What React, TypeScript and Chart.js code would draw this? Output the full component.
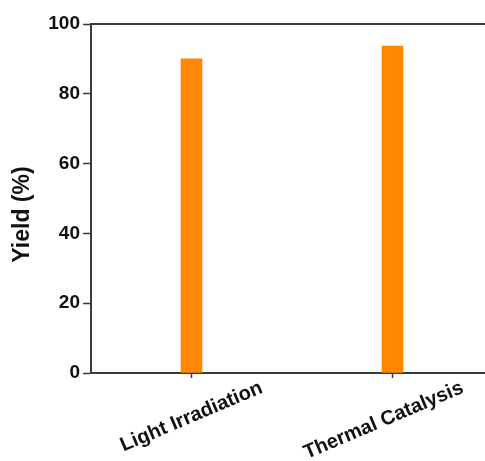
import React, { useEffect, useRef } from "react";
import { Chart, registerables } from "chart.js";

Chart.register(...registerables);

const categories: string[] = ["Light Irradiation", "Thermal Catalysis"];
const yieldValues: number[] = [90, 93.7];
const yTicks: number[] = [0, 20, 40, 60, 80, 100];
const yTitle = "Yield (%)";

const AXIS = "#3a3a3a";
const BAR = "#FF8800";
const FONT = "'Liberation Sans', Arial, sans-serif";

const frame = {
  id: "frame",
  afterDraw(chart: any) {
    const { ctx, chartArea } = chart;
    ctx.save();
    ctx.strokeStyle = AXIS;
    ctx.lineWidth = 2;
    ctx.beginPath();
    ctx.moveTo(chartArea.left - 1, chartArea.top);
    ctx.lineTo(chartArea.right + 20, chartArea.top);
    ctx.stroke();
    const cy = (chartArea.top + chartArea.bottom) / 2 + 16;
    ctx.translate(23, cy);
    ctx.rotate(-Math.PI / 2);
    ctx.fillStyle = "#111";
    ctx.font = `bold 23px ${FONT}`;
    ctx.textAlign = "center";
    ctx.textBaseline = "middle";
    ctx.fillText(yTitle, 0, 0);
    ctx.restore();
  },
};

export default function App() {
  const ref = useRef<HTMLCanvasElement | null>(null);
  useEffect(() => {
    if (!ref.current) return;
    const chart = new Chart(ref.current, {
      type: "bar",
      data: {
        labels: categories,
        datasets: [
          {
            label: yTitle,
            data: yieldValues,
            backgroundColor: BAR,
            borderWidth: 0,
            barThickness: 21,
          },
        ],
      },
      options: {
        responsive: false,
        animation: false,
        layout: { padding: { top: 24, right: 7, left: 0, bottom: 0 } },
        plugins: { legend: { display: false }, tooltip: { enabled: false } },
        scales: {
          x: {
            border: { display: true, color: AXIS, width: 2 },
            grid: {
              display: true,
              offset: false,
              drawOnChartArea: false,
              tickLength: 5,
              color: AXIS,
              tickColor: AXIS,
              tickWidth: 1.5,
            },
            ticks: {
              color: "#111",
              font: { family: FONT, size: 20, weight: "bold" },
              minRotation: 23,
              maxRotation: 23,
              labelOffset: 70,
              padding: -2,
            },
            afterFit(scale: any) {
              scale.height = 88;
              scale.paddingLeft = 0;
              scale.paddingRight = 0;
            },
          },
          y: {
            min: 0,
            max: 100,
            afterBuildTicks(scale: any) {
              scale.ticks = yTicks.map((v) => ({ value: v }));
            },
            border: { display: true, color: AXIS, width: 2 },
            grid: {
              display: true,
              drawOnChartArea: false,
              drawTicks: true,
              tickLength: 8,
              color: AXIS,
              tickColor: AXIS,
              tickWidth: 1.5,
            },
            ticks: {
              color: "#111",
              font: { family: FONT, size: 19, weight: "bold" },
              padding: 3,
            },
            title: { display: false, text: yTitle },
            afterFit(scale: any) {
              scale.width = 91;
              scale.paddingTop = 0;
              scale.paddingBottom = 0;
            },
          },
        },
      },
      plugins: [frame],
    });
    return () => chart.destroy();
  }, []);
  return (
    <div style={{ position: "fixed", left: 0, top: 0, width: 485, height: 461, overflow: "hidden", background: "#fff" }}>
      <canvas ref={ref} width={500} height={461} style={{ display: "block", width: 500, height: 461 }} />
    </div>
  );
}
